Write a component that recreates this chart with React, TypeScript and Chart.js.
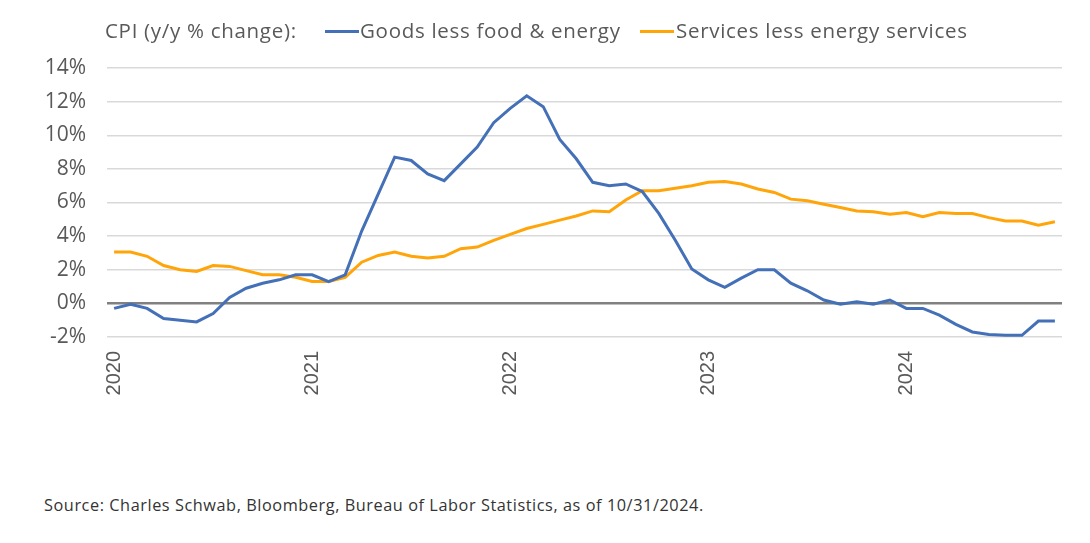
import React, { useEffect, useRef } from "react";
import { Chart, registerables } from "chart.js";

Chart.register(...registerables);

const yearLabels = ["2020", "2021", "2022", "2023", "2024"];
const yearTickIndex = [0, 12, 24, 36, 48];
const yTicks = [-2, 0, 2, 4, 6, 8, 10, 12, 14];

// Monthly, Jan 2020 – Oct 2024
const goodsLessFoodEnergy = [
  -0.3, -0.05, -0.3, -0.9, -1.0, -1.1, -0.6, 0.35, 0.9, 1.2, 1.4, 1.7,
  1.7, 1.3, 1.7, 4.3, 6.5, 8.7, 8.5, 7.7, 7.3, 8.3, 9.3, 10.75,
  11.6, 12.35, 11.7, 9.75, 8.6, 7.2, 7.0, 7.1, 6.65, 5.35, 3.75, 2.05,
  1.4, 0.95, 1.5, 2.0, 2.0, 1.2, 0.75, 0.2, -0.05, 0.1, -0.05, 0.2,
  -0.3, -0.3, -0.7, -1.25, -1.7, -1.85, -1.9, -1.9, -1.05, -1.05,
];

const servicesLessEnergy = [
  3.05, 3.05, 2.8, 2.25, 2.0, 1.9, 2.25, 2.2, 1.95, 1.7, 1.7, 1.55,
  1.3, 1.3, 1.55, 2.45, 2.85, 3.05, 2.8, 2.7, 2.8, 3.25, 3.35, 3.75,
  4.1, 4.45, 4.7, 4.95, 5.2, 5.5, 5.45, 6.15, 6.7, 6.7, 6.85, 7.0,
  7.2, 7.25, 7.1, 6.8, 6.6, 6.2, 6.1, 5.9, 5.7, 5.5, 5.45, 5.3,
  5.4, 5.15, 5.4, 5.35, 5.35, 5.1, 4.9, 4.9, 4.65, 4.85,
];

const legendTitle = "CPI (y/y % change):";
const seriesNames = ["Goods less food & energy", "Services less energy services"];
const sourceText =
  "Source: Charles Schwab, Bloomberg, Bureau of Labor Statistics, as of 10/31/2024.";

const BLUE = "#4470b8";
const ORANGE = "#ffa50a";
const TEXT = "#595959";
const FONT = "'Open Sans', Roboto, sans-serif";

export default function App() {
  const canvasRef = useRef<HTMLCanvasElement | null>(null);

  useEffect(() => {
    const canvas = canvasRef.current;
    if (!canvas) return;
    const toPts = (arr: number[]) => arr.map((v, i) => ({ x: i, y: v }));
    const chart = new Chart(canvas, {
      type: "line",
      data: {
        datasets: [
          {
            label: seriesNames[0],
            data: toPts(goodsLessFoodEnergy),
            borderColor: BLUE,
            backgroundColor: BLUE,
            borderWidth: 3,
            pointRadius: 0,
            tension: 0,
          },
          {
            label: seriesNames[1],
            data: toPts(servicesLessEnergy),
            borderColor: ORANGE,
            backgroundColor: ORANGE,
            borderWidth: 3,
            pointRadius: 0,
            tension: 0,
          },
        ],
      },
      options: {
        animation: false,
        responsive: false,
        maintainAspectRatio: false,
        layout: { padding: { top: 68, right: 28, bottom: 0, left: 0 } },
        plugins: {
          legend: { display: false },
          tooltip: { enabled: false },
        },
        scales: {
          x: {
            type: "linear",
            min: -0.43,
            max: goodsLessFoodEnergy.length - 1 + 0.43,
            grid: { display: false, drawTicks: false },
            border: { display: false },
            afterBuildTicks: (scale: any) => {
              scale.ticks = yearTickIndex.map((v) => ({ value: v }));
            },
            afterFit: (scale: any) => {
              scale.height = 83;
            },
            ticks: {
              autoSkip: false,
              maxRotation: 90,
              minRotation: 90,
              padding: 14,
              color: TEXT,
              font: { family: "'Liberation Sans', Arial, sans-serif", size: 20 },
              callback: (value: any) => {
                const idx = yearTickIndex.indexOf(Number(value));
                return idx >= 0 ? yearLabels[idx] : "";
              },
            },
          },
          y: {
            min: yTicks[0],
            max: yTicks[yTicks.length - 1],
            afterBuildTicks: (scale: any) => {
              scale.ticks = yTicks.map((v) => ({ value: v }));
            },
            afterFit: (scale: any) => {
              scale.width = 107;
            },
            grid: {
              drawTicks: false,
              color: (ctx: any) => (ctx.tick && ctx.tick.value === 0 ? "#808080" : "#d9d9d9"),
              lineWidth: (ctx: any) => (ctx.tick && ctx.tick.value === 0 ? 2.5 : 1.5),
            },
            border: { display: false },
            ticks: {
              padding: 21,
              color: TEXT,
              font: { family: FONT, size: 21 },
              callback: (value: any) => `${value}%`,
            },
          },
        },
      },
    });
    return () => chart.destroy();
  }, []);

  const legendText: React.CSSProperties = {
    position: "absolute",
    top: 16,
    fontFamily: FONT,
    fontSize: 20.5,
    letterSpacing: "0.7px",
    color: TEXT,
    whiteSpace: "nowrap",
    lineHeight: "28px",
  };
  const swatch = (left: number, color: string): React.CSSProperties => ({
    position: "absolute",
    left,
    top: 30,
    width: 34,
    height: 3,
    background: color,
  });

  return (
    <div
      style={{
        position: "absolute",
        left: 0,
        top: 0,
        width: 1090,
        height: 543,
        background: "#ffffff",
        overflow: "hidden",
      }}
    >
      <canvas
        ref={canvasRef}
        width={1090}
        height={420}
        style={{ position: "absolute", left: 0, top: 0, width: 1090, height: 420 }}
      />
      <div style={{ ...legendText, left: 105 }}>{legendTitle}</div>
      <div style={swatch(325, BLUE)} />
      <div style={{ ...legendText, left: 360 }}>{seriesNames[0]}</div>
      <div style={swatch(640, ORANGE)} />
      <div style={{ ...legendText, left: 676 }}>{seriesNames[1]}</div>
      <div
        style={{
          position: "absolute",
          left: 44,
          top: 494,
          fontFamily: FONT,
          fontSize: 16.3,
          letterSpacing: "0.56px",
          color: "#333333",
          whiteSpace: "nowrap",
          lineHeight: "22px",
        }}
      >
        {sourceText}
      </div>
    </div>
  );
}
